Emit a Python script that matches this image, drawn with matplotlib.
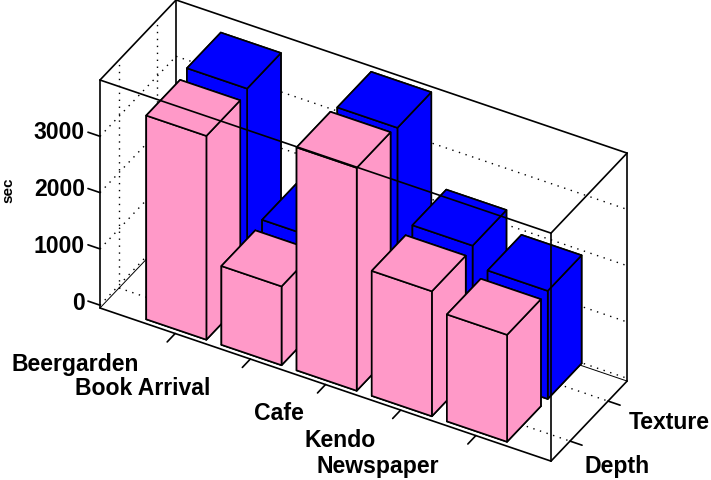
import matplotlib
matplotlib.use('Agg')
import matplotlib.pyplot as plt
from mpl_toolkits.mplot3d import proj3d

categories = ['Beergarden', 'Book Arrival', 'Cafe', 'Kendo', 'Newspaper']
series_names = ['Depth', 'Texture']
depth_values = [3620, 1400, 3960, 2220, 1900]
texture_values = [3700, 1460, 3910, 2270, 1920]
z_ticks = [0, 1000, 2000, 3000]

W, H = 711, 481
XMAX, YMAX, ZMIN, ZMAX = 6, 2, -50, 4000
PINK = '#FF99C8'
BLUE = '#0000FF'
FONT = 'Liberation Sans'

plt.rcParams['font.family'] = FONT
fig = plt.figure(figsize=(W / 100, H / 100), dpi=100)
ax = fig.add_axes([0.1, 0.1, 0.8, 0.8], projection='3d', proj_type='ortho', computed_zorder=False)
ax.view_init(elev=36.7, azim=-60.4)
ax.set_box_aspect((518.6, 154, 284.3))
ax.set_axis_off()

def seg(a, b, z=2, **kw):
    ax.plot([a[0], b[0]], [a[1], b[1]], [a[2], b[2]], color='black', zorder=z,
            solid_capstyle='round', **kw)

# dotted grid on the back walls and floor
dots = dict(linestyle=(0, (1, 4)), linewidth=1.0)
y_pos = [0.5, 1.5]
for z in z_ticks:
    seg((0, YMAX, z), (XMAX, YMAX, z), **dots)
    seg((0, 0, z), (0, YMAX, z), **dots)
for y in y_pos:
    seg((0, y, ZMIN), (XMAX, y, ZMIN), **dots)
    seg((0, y, ZMIN), (0, y, ZMAX), **dots)

# edges behind the bars
seg((0, YMAX, ZMIN), (0, YMAX, ZMAX), linewidth=1.2)
seg((0, 0, ZMAX), (0, YMAX, ZMAX), linewidth=1.2)
seg((0, YMAX, ZMAX), (XMAX, YMAX, ZMAX), linewidth=1.2)
seg((XMAX, YMAX, ZMIN), (XMAX, YMAX, ZMAX), linewidth=1.2)
seg((0, YMAX, ZMIN), (XMAX, YMAX, ZMIN), linewidth=0.7)
seg((0, 0, ZMIN), (0, YMAX, ZMIN), linewidth=0.7)

# bars, back row first, then left to right
for i, v in enumerate(texture_values):
    ax.bar3d(i + 0.6, 1.1, 0, 0.8, 0.89, v, color=BLUE, shade=False,
             edgecolor='black', linewidth=1.2, zorder=10 + i)
for i, v in enumerate(depth_values):
    ax.bar3d(i + 0.6, 0.03, 0, 0.8, 0.89, v, color=PINK, shade=False,
             edgecolor='black', linewidth=1.2, zorder=20 + i)

# front edges run over the bars
seg((0, 0, ZMIN), (XMAX, 0, ZMIN), z=30, linewidth=1.2)
seg((0, 0, ZMIN), (0, 0, ZMAX), z=30, linewidth=1.2)
seg((0, 0, ZMAX), (XMAX, 0, ZMAX), z=30, linewidth=1.2)
seg((XMAX, 0, ZMIN), (XMAX, 0, ZMAX), z=30, linewidth=1.2)
seg((XMAX, 0, ZMIN), (XMAX, YMAX, ZMIN), z=30, linewidth=1.2)
seg((XMAX, 0, ZMAX), (XMAX, YMAX, ZMAX), z=30, linewidth=1.2)

# tick marks
for i in range(len(categories)):
    seg((i + 1, 0, ZMIN), (i + 1, -0.21, ZMIN), z=30, linewidth=1.2)
for y in y_pos:
    seg((XMAX, y, ZMIN), (XMAX + 0.16, y, ZMIN), z=30, linewidth=1.2)
for z in z_ticks:
    seg((0, 0, z), (-0.16, 0, z), z=30, linewidth=1.2)

ax.set_xlim(0, XMAX, view_margin=0)
ax.set_ylim(0, YMAX, view_margin=0)
ax.set_zlim(ZMIN, ZMAX, view_margin=0)

def corner_px(x, y, z):
    xp, yp, _ = proj3d.proj_transform(x, y, z, ax.get_proj())
    return ax.transData.transform((xp, yp))

# fit the box onto the place it has in the picture
fig.canvas.draw()
span = corner_px(XMAX, 0, ZMIN)[0] - corner_px(0, 0, ZMIN)[0]
pos = ax.get_position()
k = 451 / span
ax.set_position([pos.x0, pos.y0, pos.width * k, pos.height * k])
fig.canvas.draw()
p = corner_px(0, 0, ZMIN)
pos = ax.get_position()
ax.set_position([pos.x0 + (100 - p[0]) / W, pos.y0 + (H - 309 - p[1]) / H, pos.width, pos.height])

def label(px, py, s, ha='center', size=16.6, rot=0):
    fig.text(px / W, 1 - py / H, s, ha=ha, va='center', fontsize=size,
             fontweight='bold', rotation=rot, family=FONT)

cat_px = [(75, 364), (143, 389), (279, 414), (340, 441), (378, 466)]
for (px, py), name in zip(cat_px, categories):
    label(px, py, name)
label(617, 467, series_names[0])
label(669, 423, series_names[1])
tick_py = [304, 247, 190, 133]
for py, z in zip(tick_py, z_ticks):
    label(85, py, str(z), ha='right')
label(8, 190, 'sec', size=11, rot=90)

fig.savefig('out.png', dpi=100)
